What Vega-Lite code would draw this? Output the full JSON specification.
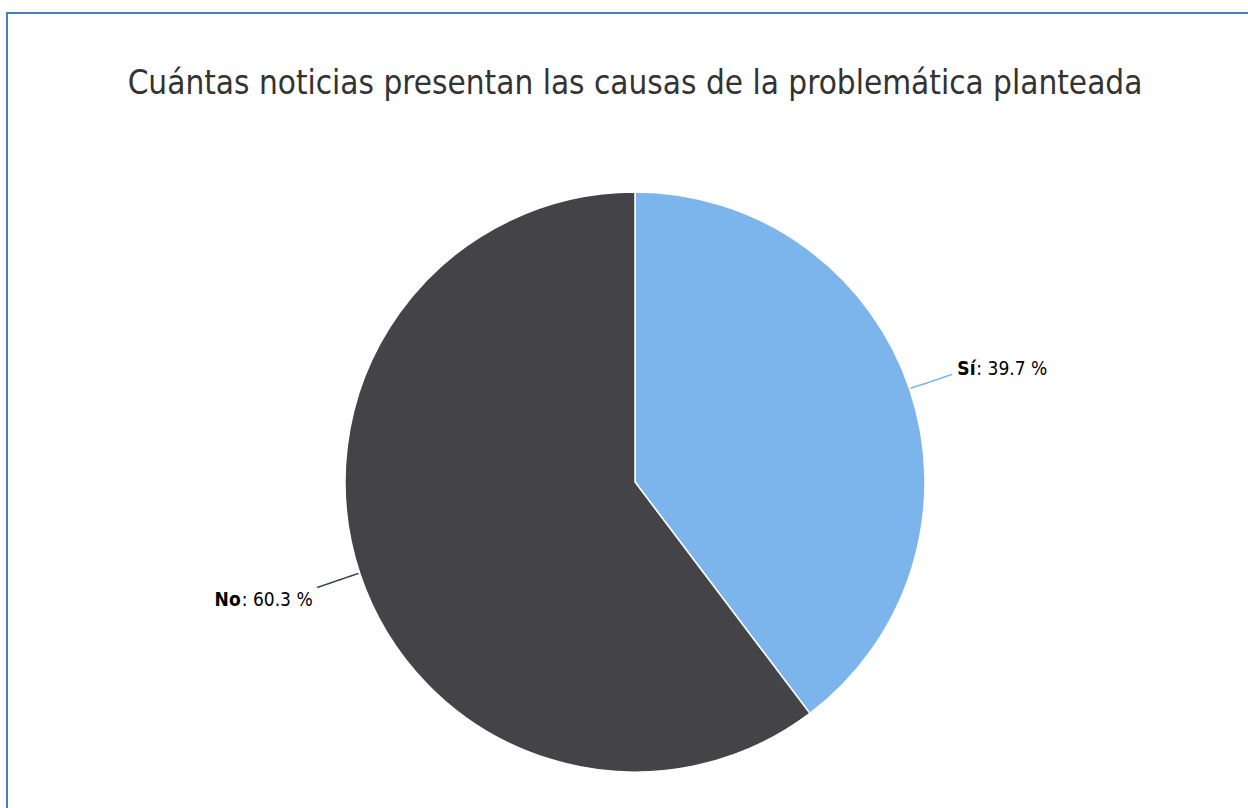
{
  "$schema": "https://vega.github.io/schema/vega-lite/v6.json",
  "width": 1256,
  "height": 938,
  "autosize": {"type": "none"},
  "padding": {"left": 7, "top": 13, "right": 0, "bottom": 0},
  "background": "white",
  "view": {"stroke": "#4a7ebb", "strokeWidth": 2, "fill": "white"},
  "title": {
    "text": "Cuántas noticias presentan las causas de la problemática planteada",
    "font": "DejaVu Sans Condensed, sans-serif",
    "fontSize": 33,
    "fontWeight": "normal",
    "color": "#333333",
    "anchor": "middle",
    "orient": "top",
    "frame": "group",
    "offset": -114,
    "baseline": "alphabetic"
  },
  "data": {
    "values": [
      {"categoria": "Sí", "porcentaje": 39.7},
      {"categoria": "No", "porcentaje": 60.3}
    ]
  },
  "transform": [
    {"calculate": "': ' + format(datum.porcentaje, '.1f') + ' %'", "as": "etiqueta"}
  ],
  "encoding": {
    "theta": {"field": "porcentaje", "type": "quantitative", "stack": true},
    "order": {"field": "categoria", "sort": "descending"},
    "detail": {"field": "categoria"}
  },
  "layer": [
    {
      "mark": {"type": "arc", "radius": 290, "stroke": "white", "strokeWidth": 1.5},
      "encoding": {
        "color": {
          "field": "categoria",
          "type": "nominal",
          "scale": {"domain": ["Sí", "No"], "range": ["#7cb5ec", "#434348"]},
          "legend": null
        }
      }
    },
    {
      "mark": {
        "type": "text",
        "radius": 313,
        "text": "────",
        "font": "DejaVu Sans Mono",
        "fontSize": 18,
        "angle": -18.5,
        "align": "center",
        "baseline": "middle"
      },
      "encoding": {
        "color": {
          "field": "categoria",
          "type": "nominal",
          "scale": {"domain": ["Sí", "No"], "range": ["#7cb5ec", "#434348"]},
          "legend": null
        }
      }
    },
    {
      "mark": {
        "type": "text",
        "radius": 340,
        "align": "left",
        "baseline": "middle",
        "font": "DejaVu Sans Condensed, sans-serif",
        "fontSize": 19,
        "fontWeight": "bold",
        "dy": -5
      },
      "encoding": {
        "text": {"condition": {"test": "datum.categoria === 'Sí'", "field": "categoria", "type": "nominal"}, "value": ""},
        "color": {"value": "#000000"}
      }
    },
    {
      "mark": {
        "type": "text",
        "radius": 340,
        "align": "left",
        "baseline": "middle",
        "font": "DejaVu Sans Condensed, sans-serif",
        "fontSize": 19,
        "fontWeight": "normal",
        "dx": 19,
        "dy": -5
      },
      "encoding": {
        "text": {"condition": {"test": "datum.categoria === 'Sí'", "field": "etiqueta", "type": "nominal"}, "value": ""},
        "color": {"value": "#000000"}
      }
    },
    {
      "mark": {
        "type": "text",
        "radius": 340,
        "align": "right",
        "baseline": "middle",
        "font": "DejaVu Sans Condensed, sans-serif",
        "fontSize": 19,
        "fontWeight": "normal",
        "dy": 10
      },
      "encoding": {
        "text": {"condition": {"test": "datum.categoria === 'No'", "field": "etiqueta", "type": "nominal"}, "value": ""},
        "color": {"value": "#000000"}
      }
    },
    {
      "mark": {
        "type": "text",
        "radius": 340,
        "align": "right",
        "baseline": "middle",
        "font": "DejaVu Sans Condensed, sans-serif",
        "fontSize": 19,
        "fontWeight": "bold",
        "dx": -72,
        "dy": 10
      },
      "encoding": {
        "text": {"condition": {"test": "datum.categoria === 'No'", "field": "categoria", "type": "nominal"}, "value": ""},
        "color": {"value": "#000000"}
      }
    }
  ]
}
